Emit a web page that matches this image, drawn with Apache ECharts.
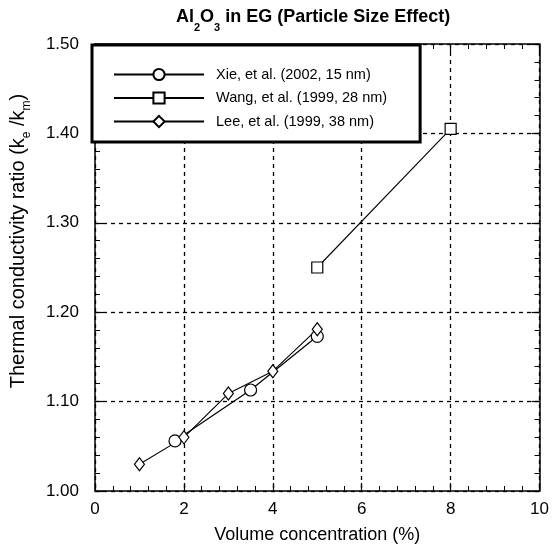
<!DOCTYPE html>
<html>
<head>
<meta charset="utf-8">
<script src="https://cdn.jsdelivr.net/npm/echarts@6/dist/echarts.min.js"></script>
<style>
  html, body { margin: 0; padding: 0; background: #fff; }
  #chart { width: 552px; height: 549px; }
</style>
</head>
<body>
<div id="chart"></div>
<script>
// Volume concentration (%) and thermal conductivity ratio for each study
const xieX  = [1.8, 3.5, 5.0];
const xieY  = [1.056, 1.113, 1.173];
const wangX = [5.0, 8.0];
const wangY = [1.250, 1.405];
const leeX  = [1.0, 2.0, 3.0, 4.0, 5.0];
const leeY  = [1.030, 1.060, 1.109, 1.134, 1.181];

const seriesNames = ['Xie, et al. (2002, 15 nm)', 'Wang, et al. (1999, 28 nm)', 'Lee, et al. (1999, 38 nm)'];

const FONT = 'Liberation Sans, Arial, Helvetica, sans-serif';

function pairs(xs, ys) { return xs.map((x, i) => [x, ys[i]]); }

const hollow = { color: '#fff', borderColor: '#000', borderWidth: 1.2 };

function makeSeries(name, data, symbol, size, lineWidth) {
  return {
    name: name,
    type: 'line',
    data: data,
    symbol: symbol,
    symbolSize: size,
    showAllSymbol: true,
    lineStyle: { color: '#000', width: lineWidth },
    itemStyle: hollow,
    emphasis: { disabled: true },
    animation: false,
    z: 3
  };
}

const chart = echarts.init(document.getElementById('chart'), null, { renderer: 'canvas' });

const xCommon = {
  type: 'value', min: 0, max: 10, interval: 2,
  axisLine: { show: true, onZero: false, lineStyle: { color: '#000', width: 1.5 } },
  axisTick: { show: true, inside: true, length: 8, lineStyle: { color: '#000', width: 1.2 } },
  minorTick: { show: true, splitNumber: 5, length: 5, lineStyle: { color: '#000', width: 1 } },
};
const yCommon = {
  type: 'value', min: 1.0, max: 1.5, interval: 0.1,
  axisLine: { show: true, onZero: false, lineStyle: { color: '#000', width: 1.5 } },
  axisTick: { show: true, inside: true, length: 8, lineStyle: { color: '#000', width: 1.2 } },
  minorTick: { show: true, splitNumber: 5, length: 5, lineStyle: { color: '#000', width: 1 } },
};

chart.setOption({
  backgroundColor: '#fff',
  animation: false,
  textStyle: { fontFamily: FONT, color: '#000' },
  title: {
    text: '{b|Al}{s|2}{b|O}{s|3}{b| in EG (Particle Size Effect)}',
    left: 176, top: 1, padding: 0,
    textStyle: {
      rich: {
        b: { fontFamily: FONT, fontWeight: 'bold', fontSize: 18, color: '#000', lineHeight: 32, verticalAlign: 'middle' },
        s: { fontFamily: FONT, fontWeight: 'bold', fontSize: 11, color: '#000', lineHeight: 32, verticalAlign: 'bottom' }
      }
    }
  },
  grid: { left: 93, right: 12, top: 44, bottom: 53, containLabel: false },
  legend: {
    orient: 'vertical',
    left: 92, top: 45,
    data: seriesNames,
    backgroundColor: '#fff',
    borderColor: '#000', borderWidth: 3, borderRadius: 0,
    padding: [22, 33, 13, 21],
    itemGap: 8.5,
    itemWidth: 90, itemHeight: 14,
    textStyle: { fontFamily: FONT, fontSize: 14.5, color: '#000', padding: [0, 0, 0, 7] },
    selectedMode: false,
    z: 10
  },
  xAxis: [
    Object.assign({}, xCommon, {
      position: 'bottom',
      name: 'Volume concentration (%)',
      nameLocation: 'middle', nameGap: 35,
      nameTextStyle: { fontFamily: FONT, fontSize: 18, color: '#000' },
      axisLabel: { show: true, fontFamily: FONT, fontSize: 17, color: '#000', margin: 10 },
      splitLine: { show: true, lineStyle: { color: '#000', width: 1.3, type: [4, 4] } }
    }),
    Object.assign({}, xCommon, {
      position: 'top',
      axisLabel: { show: false },
      splitLine: { show: false }
    })
  ],
  yAxis: [
    Object.assign({}, yCommon, {
      position: 'left',
      name: '{a|Thermal conductivity ratio (k}{s|e}{a| /k}{s|m}{a|)}',
      nameLocation: 'middle', nameGap: 62, nameRotate: 90,
      nameTextStyle: {
        padding: [0, 0, 0, 53],
        rich: {
          a: { fontFamily: FONT, fontSize: 20, color: '#000', lineHeight: 30, verticalAlign: 'middle' },
          s: { fontFamily: FONT, fontSize: 12, color: '#000', lineHeight: 30, verticalAlign: 'bottom' }
        }
      },
      axisLabel: { show: true, fontFamily: FONT, fontSize: 17, color: '#000', margin: 16,
                   formatter: v => v.toFixed(2) },
      splitLine: { show: true, lineStyle: { color: '#000', width: 1.3, type: [4, 4] } }
    }),
    Object.assign({}, yCommon, {
      position: 'right',
      axisLabel: { show: false },
      splitLine: { show: false }
    })
  ],
  series: [
    makeSeries(seriesNames[0], pairs(xieX, xieY), 'circle', 12, 1.2),
    makeSeries(seriesNames[1], pairs(wangX, wangY), 'rect', 11, 1.1),
    makeSeries(seriesNames[2], pairs(leeX, leeY), 'diamond', [10, 13], 1.1)
  ]
});
</script>
</body>
</html>
